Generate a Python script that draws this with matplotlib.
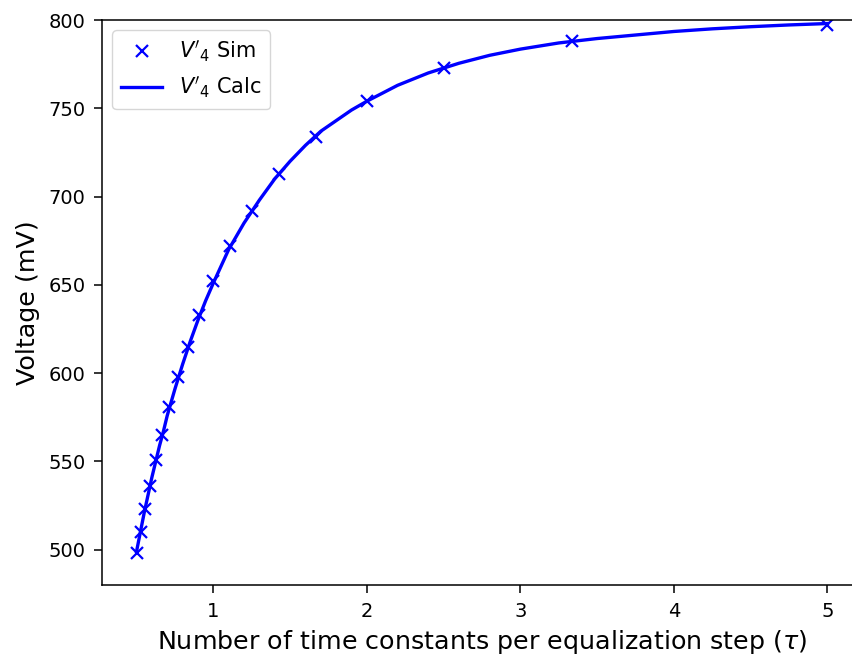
import numpy as np
import matplotlib
matplotlib.use('Agg')
import matplotlib.pyplot as plt

# simulated points (tau per step, mV)
x_sim = [0.5, 0.526, 0.556, 0.588, 0.625, 0.667, 0.714, 0.769, 0.833, 0.909,
         1.0, 1.111, 1.25, 1.429, 1.667, 2.0, 2.5, 3.333, 5.0]
v_sim = [498, 510, 523, 536, 551, 565, 581, 598, 615, 633,
         652, 672, 692, 713, 734, 754, 773, 788, 797]

# calculated curve
x_calc = [0.5, 0.525, 0.55, 0.575, 0.6, 0.625, 0.65, 0.675, 0.7, 0.75, 0.8,
          0.85, 0.9, 0.95, 1.0, 1.1, 1.2, 1.3, 1.4, 1.5, 1.6, 1.7, 1.8, 1.9,
          2.0, 2.2, 2.4, 2.6, 2.8, 3.0, 3.25, 3.5, 3.75, 4.0, 4.25, 4.5, 4.75, 5.0]
v_calc = [499, 510, 521, 531, 541, 550, 559, 567, 576, 591, 605,
          618, 630, 641, 651, 670, 685, 698, 710, 720, 729, 737, 743, 749,
          754, 763, 770, 775.5, 780, 783.5, 787, 789.5, 791.5, 793.5, 795, 796.2, 797.2, 798]

fig = plt.figure(figsize=(8.53, 6.6), dpi=100)
ax = fig.add_axes([102/853, 75/660, 760/853, 565/660])

ax.plot(x_sim, v_sim, 'bx', markersize=9, markeredgewidth=1.6, label="$V'_4$ Sim")
ax.plot(x_calc, v_calc, 'b-', linewidth=2.4, label="$V'_4$ Calc")

ax.set_xlim(0.275, 5.225)
ax.set_ylim(480, 800)
ax.set_xticks([1, 2, 3, 4, 5])
ax.set_yticks([500, 550, 600, 650, 700, 750, 800])
ax.tick_params(labelsize=14, length=6, width=1.1, pad=6)
for s in ax.spines.values():
    s.set_linewidth(1.1)

ax.set_xlabel(r'Number of time constants per equalization step ($\tau$)', fontsize=18.3, labelpad=5)
ax.set_ylabel('Voltage (mV)', fontsize=18.3, labelpad=6)
ax.legend(loc='upper left', fontsize=15)

fig.savefig('out.png', dpi=100)
